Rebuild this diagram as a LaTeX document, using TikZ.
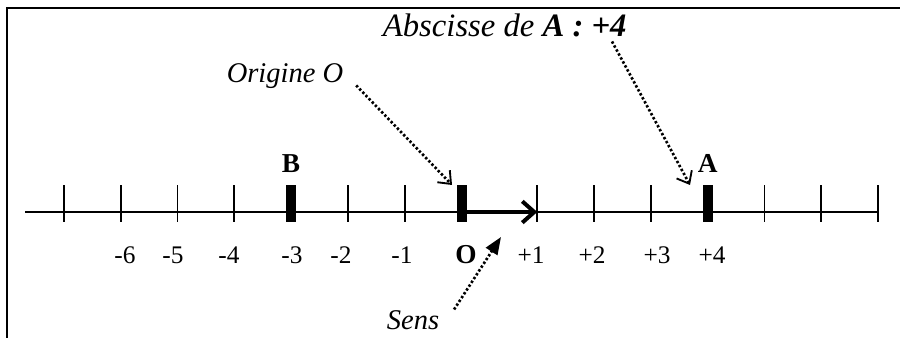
\documentclass[tikz,border=0pt]{standalone}
\usepackage{fontspec}
\setmainfont{Liberation Serif}
\usetikzlibrary{arrows.meta,positioning}
\tikzset{
  frame line/.style={draw=black,line width=0.9pt},
  axis line/.style={draw=black,line width=1.5pt},
  tick/.style={draw=black,line width=1.25pt},
  point mark/.style={rectangle,fill=black,inner sep=0pt,
    minimum width=7.5pt,minimum height=27.75pt},
  point name/.style={font=\fontsize{20.5}{24}\selectfont\bfseries,inner sep=0pt},
  tick label/.style={font=\fontsize{19}{22}\selectfont,inner sep=0pt},
  note/.style={font=\fontsize{21.4}{25}\selectfont\itshape,inner sep=2pt},
  pointer/.style={draw=black,line width=2pt,dash pattern=on 1.8pt off 1.6pt,
    -{Straight Barb[length=8pt,width=13pt,line width=1.4pt]}},
  sens pointer/.style={draw=black,line width=2pt,dash pattern=on 1.8pt off 1.6pt,
    -{Triangle[length=13pt,width=10pt]}},
  sens arrow/.style={draw=black,line width=3pt,
    -{Straight Barb[length=9pt,width=16pt,line width=3pt]}}
}
\begin{document}
\begin{tikzpicture}[x=0.75pt,y=0.75pt]
  \useasboundingbox (0,0) rectangle (900,338);
  \draw[frame line] (7,0) |- (900,330);
  % graduations: the unit after the origin is drawn longer
  \foreach \k in {-7,...,0}
    \coordinate (t\k) at ({461.5+56.8*\k},126);
  \foreach \k in {1,...,7}
    \coordinate (t\k) at ({537.3+56.8*(\k-1)},126);
  \coordinate (left end) at (25,126);
  \draw[axis line] (left end) -- (t7);
  \foreach \k in {-7,...,7}
    \draw[tick] (t\k) ++(0,-10) -- ++(0,37);
  \path (t-3) ++(0,-10) node[point mark,anchor=south] (markB) {};
  \path (t0) ++(0,-10) node[point mark,anchor=south] (markO) {};
  \path (t4) ++(0,-10) node[point mark,anchor=south] (markA) {};
  \node[point name,above=9pt of markB] (nameB) {B};
  \node[point name,above=9pt of markA] (nameA) {A};
  \foreach \x/\t [count=\i] in {125/-6,173/-5,229/-4,292/-3,341/-2,
      402/-1,531/+1,592/+2,657/+3,712/+4}
    \node[tick label] (lbl\i) at (\x,83) {\t};
  \node[point name,font=\fontsize{20.5}{24}\selectfont\bfseries] (lblO) at (466,83) {O};
  \draw[sens arrow] (markO.east |- t0) -- (t1);
  % notes
  \node[note] (origine) at (285,262) {Origine O};
  \node[note,font=\fontsize{24.5}{28}\selectfont\itshape,anchor=west] (abscisse)
    at (380,313) {Abscisse de \textbf{A : +4}};
  \node[note] (sens) at (413,18) {Sens};
  \coordinate (tipO) at (452,153);
  \coordinate (tipA) at (690,153);
  \coordinate (tipS) at (501,101);
  \draw[pointer] (origine.south east) ++(10,6) -- (tipO);
  \draw[pointer] (abscisse.south west) ++(232,-2) -- (tipA);
  \draw[sens pointer] (sens.north east) ++(12,-2) -- (tipS);
\end{tikzpicture}
\end{document}
